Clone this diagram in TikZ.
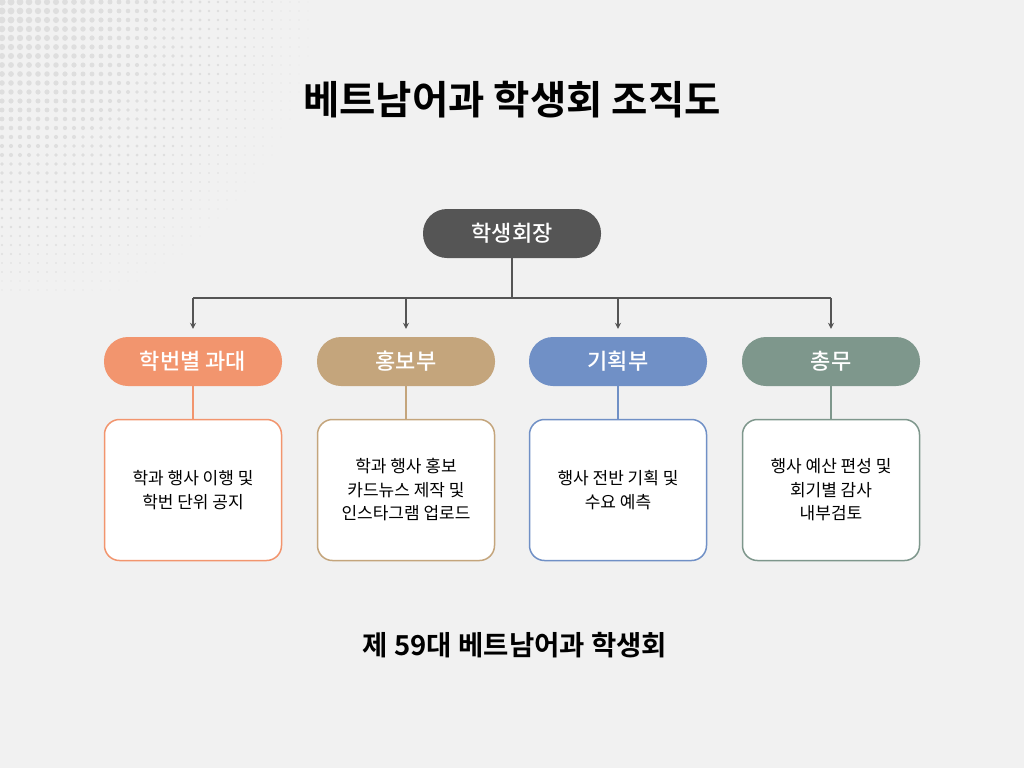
\documentclass[tikz,border=0pt]{standalone}
\usepackage{fontspec}
\setmainfont{Noto Sans CJK KR}
\newfontfamily\krbold{Noto Sans CJK KR Bold}
\newfontfamily\krmed{Noto Sans CJK KR Medium}
\usetikzlibrary{arrows.meta}
\definecolor{bgc}{HTML}{F1F1F1}
\definecolor{dotc}{HTML}{DEDEDE}
\definecolor{topc}{HTML}{555555}
\definecolor{orgc}{HTML}{F2956E}
\definecolor{tanc}{HTML}{C4A57C}
\definecolor{bluc}{HTML}{7090C6}
\definecolor{grnc}{HTML}{7E978C}
\tikzset{
  pill/.style={rounded corners=24pt, minimum width=178pt, minimum height=49pt, inner sep=0pt, text=white, font=\krmed\fontsize{22}{26}\selectfont},
  descbox/.style={draw=#1, line width=1.5pt, fill=white, rounded corners=15pt, minimum width=177pt, minimum height=141pt, inner sep=0pt, align=center, font=\fontsize{17}{23.5}\selectfont, text=black},
  link/.style={draw=#1, line width=1.5pt},
  bus/.style={draw=topc, line width=1.5pt},
  arr/.style={draw=topc, line width=1.5pt, -{Stealth[length=6pt,width=6pt]}}
}
\begin{document}
\begin{tikzpicture}[x=1pt,y=-1pt]
\fill[bgc] (0,0) rectangle (1024,768);
\useasboundingbox (0,0) rectangle (1024,768);
\foreach \i in {0,...,38}{
  \foreach \j in {0,...,32}{
    \pgfmathsetmacro{\rr}{3.6*(1-9*veclen(\i,\j)/350)}
    \ifdim\rr pt>0.4pt
      \fill[dotc] (9*\i+2,9*\j+2) circle[radius=\rr];
    \fi
  }
}
\node[font=\krbold\fontsize{39.5}{44}\selectfont] (title) at (512,100) {베트남어과 학생회 조직도};
\node[pill, fill=topc] (top) at (512,233.5) {학생회장};
\node[pill, fill=orgc] (d1) at (193,361.5) {학번별 과대};
\node[pill, fill=tanc] (d2) at (406,361.5) {홍보부};
\node[pill, fill=bluc] (d3) at (618,361.5) {기획부};
\node[pill, fill=grnc] (d4) at (831,361.5) {총무};
\node[descbox=orgc] (b1) at (193,490) {학과 행사 이행 및\\학번 단위 공지};
\node[descbox=tanc] (b2) at (406,490) {학과 행사 홍보\\카드뉴스 제작 및\\인스타그램 업로드};
\node[descbox=bluc] (b3) at (618,490) {행사 전반 기획 및\\수요 예측};
\node[descbox=grnc] (b4) at (831,490) {행사 예산 편성 및\\회기별 감사\\내부검토};
\coordinate (j) at (512,298);
\draw[bus] (top.south) -- (j);
\draw[bus] (j -| d1) -- (j -| d4);
\foreach \d in {d1,d2,d3,d4}{
  \draw[arr] (j -| \d) -- ([yshift=8pt]\d.north);
}
\draw[link=orgc] (d1.south) -- (b1.north);
\draw[link=tanc] (d2.south) -- (b2.north);
\draw[link=bluc] (d3.south) -- (b3.north);
\draw[link=grnc] (d4.south) -- (b4.north);
\node[font=\krbold\fontsize{27.5}{32}\selectfont] (foot) at (515,645) {제 59대 베트남어과 학생회};
\end{tikzpicture}
\end{document}
